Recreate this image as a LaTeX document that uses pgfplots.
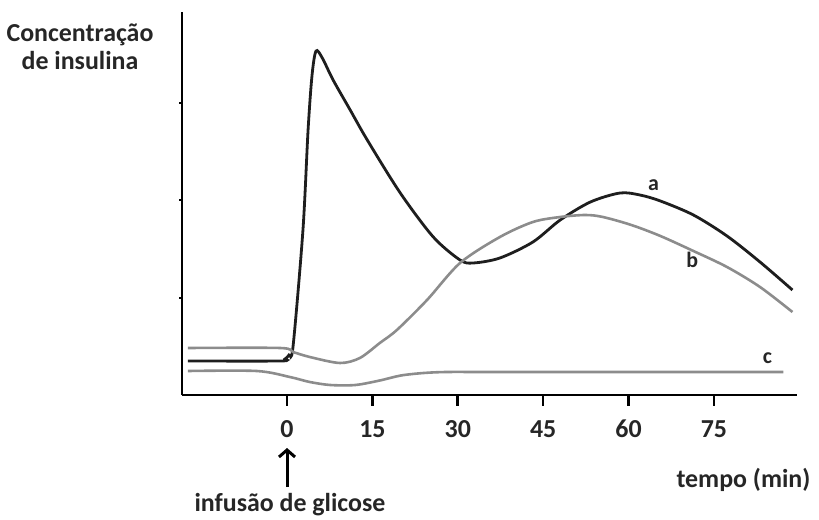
\documentclass[border=0pt]{standalone}
\usepackage{pgfplots}
\pgfplotsset{compat=1.18}
\usepackage{fontspec}
\setmainfont{Carlito}
\usetikzlibrary{arrows.meta}
\definecolor{curvea}{HTML}{1E1E1E}
\definecolor{curveb}{HTML}{8C8C8C}
\newcommand{\bigfnt}{\fontsize{26}{30}\selectfont\bfseries}
\newcommand{\smallfnt}{\fontsize{22}{26}\selectfont\bfseries}
\begin{document}
\begin{tikzpicture}
\useasboundingbox (-182bp,-125bp) rectangle (637bp,395bp);
\begin{axis}[
  at={(0,0)}, anchor=south west,
  scale only axis, width=615bp, height=383bp,
  xmin=-18.45, xmax=89.6, ymin=0, ymax=383,
  axis x line*=bottom, axis y line*=left,
  axis line style={line width=2.4bp, black},
  xtick={0,15,30,45,60,75},
  ytick=\empty,
  major tick length=0pt,
  /pgf/number format/assume math mode=true,
  xticklabel style={font=\bigfnt, anchor=base, yshift=-42bp, text=black!85},
  clip=false,
]
\pgfplotsinvokeforeach{97,195,292}{
  \draw[line width=1.8bp, black] (axis cs:-18.45,#1) -- (axis cs:-18.9,#1);
}
\addplot[curvea, line width=2.8bp, smooth, tension=0.5] coordinates {
(-17.4,34) (-1.2,34) (-0.35,36) (0.35,40) (1.05,48) (2.8,165) (3.7,265) (4.4,320) (5.1,344)
(6.2,337) (8.1,315) (11.1,285) (14.1,255) (19.9,202) (25.7,158) (30.4,135) (32.7,132)
(37.4,137) (43.2,153) (48.0,175) (53.3,193) (58.5,202) (62,200) (65.6,194) (71.4,180) (77.3,159)
(83.1,133) (88.8,105)
};
\addplot[curveb, line width=2.6bp, smooth, tension=0.5] coordinates {
(-17.4,47) (-1.2,47) (1.05,43) (4.0,38) (9.3,32) (12.8,37) (16.3,52) (19.3,65) (24.6,95)
(30.4,132) (37.4,158) (43.2,173) (48,178) (52.4,180) (55.5,178) (60.5,170) (65.6,159) (71.4,144) (77.3,128) (83.1,108) (88.8,83)
};
\addplot[curveb, line width=2.6bp, smooth, tension=0.5] coordinates {
(-17.4,24) (-5.3,24) (0.5,18) (4,13) (7.6,10) (12,10) (16.3,14.5) (20,19.5) (24,22) (28,23) (35,23) (50,23) (70,23) (87.2,23)
};
\node[font=\smallfnt, text=black!85] at (axis cs:64.4,210) {a};
\node[font=\smallfnt, text=black!85] at (axis cs:71.2,135) {b};
\node[font=\smallfnt, text=black!85] at (axis cs:84.4,37) {c};
\end{axis}
\foreach \i in {0,...,5} {
  \draw[line width=2.6bp, black] ({105bp+\i*85.38bp},0bp) -- ({105bp+\i*85.38bp},-11bp);
}
\node[font=\bigfnt, text=black!85, anchor=base] at (-102bp,353bp) {Concentração};
\node[font=\bigfnt, text=black!85, anchor=base] at (-102bp,325bp) {de insulina};
\node[font=\bigfnt, text=black!85, anchor=base] at (561.5bp,-92bp) {tempo (min)};
\node[font=\bigfnt, text=black!85, anchor=base] at (108bp,-116bp) {infusão de glicose};
\draw[line width=3bp, -{Straight Barb[length=7bp,width=16bp]}] (105bp,-92bp) -- (105bp,-53bp);
\end{tikzpicture}
\end{document}
